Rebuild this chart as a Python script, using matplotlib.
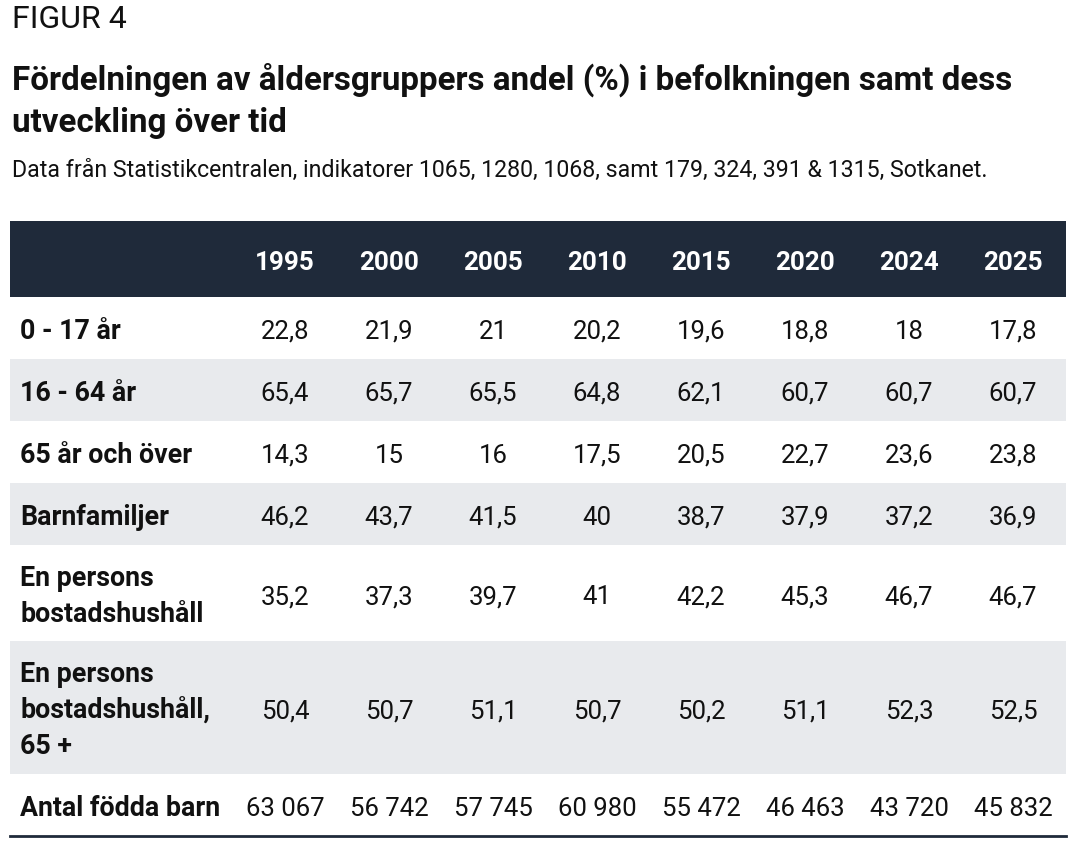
import matplotlib.pyplot as plt
from matplotlib.patches import Rectangle

plt.rcParams['font.family'] = ['Roboto', 'DejaVu Sans']

years = ['1995', '2000', '2005', '2010', '2015', '2020', '2024', '2025']
row_labels = [['0 - 17 år'], ['16 - 64 år'], ['65 år och över'], ['Barnfamiljer'],
              ['En persons', 'bostadshushåll'],
              ['En persons', 'bostadshushåll,', '65 +'],
              ['Antal födda barn']]
age_0_17 = ['22,8', '21,9', '21', '20,2', '19,6', '18,8', '18', '17,8']
age_16_64 = ['65,4', '65,7', '65,5', '64,8', '62,1', '60,7', '60,7', '60,7']
age_65 = ['14,3', '15', '16', '17,5', '20,5', '22,7', '23,6', '23,8']
families = ['46,2', '43,7', '41,5', '40', '38,7', '37,9', '37,2', '36,9']
single = ['35,2', '37,3', '39,7', '41', '42,2', '45,3', '46,7', '46,7']
single_65 = ['50,4', '50,7', '51,1', '50,7', '50,2', '51,1', '52,3', '52,5']
births = ['63 067', '56 742', '57 745', '60 980', '55 472', '46 463', '43 720', '45 832']
rows = [age_0_17, age_16_64, age_65, families, single, single_65, births]

W, H = 1087, 867
fig = plt.figure(figsize=(W / 100, H / 100), dpi=100)
ax = fig.add_axes([0, 0, 1, 1])
ax.set_xlim(0, W)
ax.set_ylim(H, 0)
ax.axis('off')

navy = '#1f2a3a'
grey = '#e8eaed'
ink = '#111111'

ax.text(12, 19, 'FIGUR 4', fontsize=23, color=ink, va='center')
ax.text(12, 80, 'Fördelningen av åldersgruppers andel (%) i befolkningen samt dess',
        fontsize=23.9, fontweight='bold', color=ink, va='center')
ax.text(12, 123, 'utveckling över tid', fontsize=23.9, fontweight='bold', color=ink, va='center')
ax.text(12, 170, 'Data från Statistikcentralen, indikatorer 1065, 1280, 1068, samt 179, 324, 391 & 1315, Sotkanet.',
        fontsize=16.7, color=ink, va='center')

left, right = 10, 1066
col_x = [285 + 104 * i for i in range(len(years))]

# header band
ax.add_patch(Rectangle((left, 221), right - left, 76, color=navy, lw=0))
for x, yr in zip(col_x, years):
    ax.text(x, 270, yr, fontsize=18.7, fontweight='bold', color='white', ha='center', va='baseline')

# body rows
row_edges = [297, 359, 421, 483, 545, 641, 774, 836]
for i, (lines, vals) in enumerate(zip(row_labels, rows)):
    top, bot = row_edges[i], row_edges[i + 1]
    if i % 2 == 1:
        ax.add_patch(Rectangle((left, top), right - left, bot - top, color=grey, lw=0))
    yc = (top + bot) / 2
    n = len(lines)
    for k, line in enumerate(lines):
        cap_mid = yc + 1.5 + (k - (n - 1) / 2) * 36
        ax.text(20, cap_mid + 9.5, line, fontsize=19.3, fontweight='bold', color=ink,
                va='baseline')
    for x, v in zip(col_x, vals):
        ax.text(x, yc + 11, v, fontsize=18.5, color=ink, ha='center', va='baseline')

ax.plot([left, right], [836, 836], color=navy, lw=2)

fig.savefig('out.png', dpi=100)
